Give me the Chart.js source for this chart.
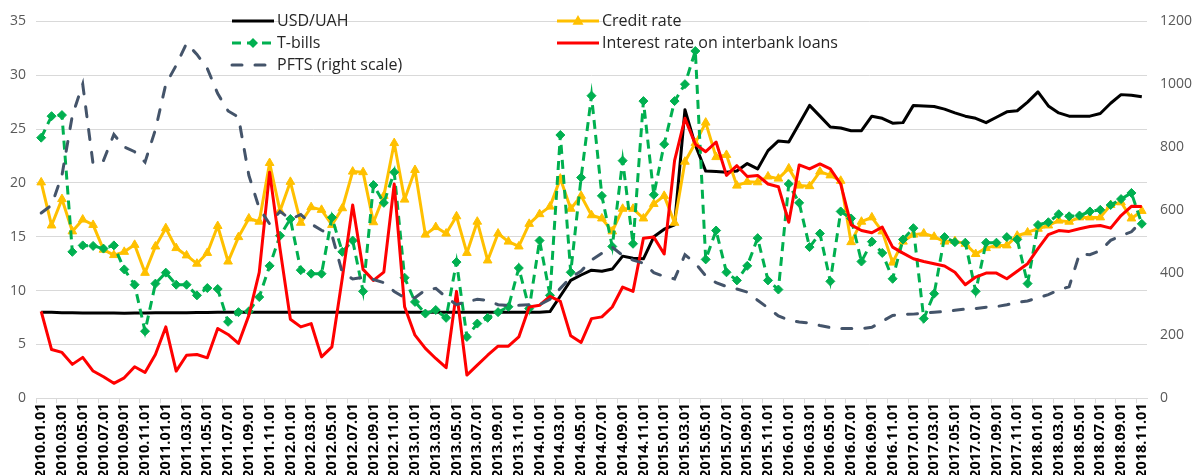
<!DOCTYPE html>
<html>
<head>
<meta charset="utf-8">
<script src="https://cdn.jsdelivr.net/npm/chart.js@4/dist/chart.umd.min.js"></script>
<style>
  html, body { margin: 0; padding: 0; background: #fff; }
  #chart { display: block; }
</style>
</head>
<body>
<canvas id="chart" width="1193" height="475"></canvas>
<script>
// ============================================================================
// DATA (monthly)
// ============================================================================

const months = [
    '2010.01.01', '2010.02.01', '2010.03.01', '2010.04.01', '2010.05.01', '2010.06.01', '2010.07.01', '2010.08.01', '2010.09.01', '2010.10.01', '2010.11.01', '2010.12.01',
    '2011.01.01', '2011.02.01', '2011.03.01', '2011.04.01', '2011.05.01', '2011.06.01', '2011.07.01', '2011.08.01', '2011.09.01', '2011.10.01', '2011.11.01', '2011.12.01',
    '2012.01.01', '2012.02.01', '2012.03.01', '2012.04.01', '2012.05.01', '2012.06.01', '2012.07.01', '2012.08.01', '2012.09.01', '2012.10.01', '2012.11.01', '2012.12.01',
    '2013.01.01', '2013.02.01', '2013.03.01', '2013.04.01', '2013.05.01', '2013.06.01', '2013.07.01', '2013.08.01', '2013.09.01', '2013.10.01', '2013.11.01', '2013.12.01',
    '2014.01.01', '2014.02.01', '2014.03.01', '2014.04.01', '2014.05.01', '2014.06.01', '2014.07.01', '2014.08.01', '2014.09.01', '2014.10.01', '2014.11.01', '2014.12.01',
    '2015.01.01', '2015.02.01', '2015.03.01', '2015.04.01', '2015.05.01', '2015.06.01', '2015.07.01', '2015.08.01', '2015.09.01', '2015.10.01', '2015.11.01', '2015.12.01',
    '2016.01.01', '2016.02.01', '2016.03.01', '2016.04.01', '2016.05.01', '2016.06.01', '2016.07.01', '2016.08.01', '2016.09.01', '2016.10.01', '2016.11.01', '2016.12.01',
    '2017.01.01', '2017.02.01', '2017.03.01', '2017.04.01', '2017.05.01', '2017.06.01', '2017.07.01', '2017.08.01', '2017.09.01', '2017.10.01', '2017.11.01', '2017.12.01',
    '2018.01.01', '2018.02.01', '2018.03.01', '2018.04.01', '2018.05.01', '2018.06.01', '2018.07.01', '2018.08.01', '2018.09.01', '2018.10.01', '2018.11.01'
];

const usdUah = [
    8.00, 7.98, 7.95, 7.94, 7.93, 7.92, 7.91, 7.91, 7.90, 7.91, 7.93, 7.94,
    7.94, 7.95, 7.95, 7.96, 7.97, 7.98, 7.98, 7.98, 7.98, 7.98, 7.99, 7.99,
    7.99, 7.99, 7.99, 7.99, 7.99, 7.99, 7.99, 7.99, 7.99, 7.99, 7.99, 7.99,
    7.99, 7.99, 7.99, 7.99, 7.99, 7.99, 7.99, 7.99, 7.99, 7.99, 7.99, 7.99,
    7.99, 8.05, 9.5, 10.95, 11.45, 11.9, 11.8, 12.0, 13.2, 13.0, 12.95, 15.0,
    15.7, 16.1, 26.8, 23.5, 21.1, 21.05, 21.0, 21.1, 21.8, 21.3, 23.0, 23.9,
    23.8, 25.5, 27.2, 26.2, 25.2, 25.1, 24.85, 24.85, 26.2, 26.0, 25.55, 25.6,
    27.2, 27.15, 27.1, 26.85, 26.5, 26.2, 26.0, 25.6, 26.1, 26.6, 26.7, 27.5,
    28.45, 27.15, 26.5, 26.2, 26.2, 26.2, 26.45, 27.4, 28.2, 28.15, 28.0
];

const creditRate = [
    20.05, 16.05, 18.5, 15.5, 16.6, 16.1, 13.8, 13.3, 13.6, 14.25, 11.65, 14.1,
    15.8, 13.95, 13.27, 12.5, 13.5, 16.0, 12.7, 14.97, 16.7, 16.4, 21.85, 17.4,
    20.1, 16.3, 17.75, 17.5, 16.1, 17.65, 21.05, 21.0, 16.35, 18.8, 23.7, 18.45,
    21.2, 15.2, 15.9, 15.3, 16.9, 13.5, 16.4, 12.8, 15.3, 14.55, 14.1, 16.2,
    17.1, 17.8, 20.4, 17.6, 18.8, 17.0, 16.7, 15.5, 17.6, 17.6, 16.7, 18.05,
    18.8, 16.3, 21.97, 23.7, 25.6, 22.4, 22.6, 19.75, 20.1, 20.06, 20.6, 20.4,
    21.35, 19.75, 19.7, 21.05, 20.7, 20.2, 14.5, 16.4, 16.8, 15.5, 12.6, 14.55,
    15.2, 15.3, 15.0, 14.55, 14.6, 14.35, 13.4, 13.95, 14.2, 14.2, 15.1, 15.4,
    15.75, 16.05, 16.5, 16.4, 16.8, 16.8, 16.8, 17.95, 18.2, 16.7, 17.4
];

const tBills = [
    24.2, 26.2, 26.3, 13.6, 14.2, 14.15, 13.9, 14.2, 11.97, 10.55, 6.23, 10.65,
    11.67, 10.55, 10.55, 9.56, 10.24, 10.15, 7.1, 8.0, 8.08, 9.4, 12.3, 15.1,
    16.65, 11.9, 11.57, 11.57, 16.8, 13.6, 14.65, 9.93, 19.8, 18.15, 21.0, 11.2,
    8.95, 7.87, 8.2, 7.47, 12.65, 5.7, 6.94, 7.47, 8.0, 8.5, 12.1, 8.33,
    14.65, 9.56, 24.45, 11.7, 20.5, 28.1, 18.8, 14.1, 22.07, 14.35, 27.6, 18.9,
    23.6, 27.6, 29.17, 32.25, 12.9, 15.58, 11.7, 10.95, 12.3, 14.87, 10.95, 10.1,
    19.9, 18.15, 14.04, 15.3, 10.86, 17.35, 16.7, 12.7, 14.55, 13.5, 11.1, 14.75,
    15.8, 7.4, 9.72, 14.97, 14.5, 14.45, 9.93, 14.45, 14.45, 14.97, 14.75, 10.65,
    16.1, 16.35, 17.1, 16.9, 16.97, 17.35, 17.5, 17.95, 18.5, 19.07, 16.2
];

const interbankRate = [
    8.08, 4.53, 4.26, 3.15, 3.8, 2.53, 2.0, 1.39, 1.9, 2.93, 2.4, 4.07,
    6.63, 2.53, 4.0, 4.07, 3.76, 6.48, 5.93, 5.09, 7.7, 11.7, 21.0, 13.9,
    7.34, 6.63, 6.94, 3.85, 4.78, 11.17, 17.96, 11.97, 10.95, 11.72, 19.9, 8.5,
    5.86, 4.63, 3.7, 2.84, 9.93, 2.16, 3.08, 4.0, 4.84, 4.84, 5.7, 8.48,
    8.64, 9.47, 9.0, 5.8, 5.18, 7.4, 7.56, 8.48, 10.33, 9.93, 14.87, 14.97,
    13.4, 22.07, 26.0, 23.6, 22.9, 23.8, 20.7, 21.6, 20.6, 20.7, 19.9, 19.65,
    16.35, 21.67, 21.3, 21.76, 21.3, 19.9, 16.1, 15.58, 15.37, 15.9, 14.04, 13.48,
    12.96, 12.7, 12.5, 12.28, 11.7, 10.55, 11.26, 11.63, 11.63, 11.1, 11.8, 12.5,
    13.9, 15.2, 15.58, 15.5, 15.74, 15.95, 16.05, 15.8, 16.97, 17.83, 17.8
];

const pfts = [
    590, 615, 710, 900, 1000, 745, 757, 840, 800, 785, 752, 855,
    1000, 1060, 1130, 1095, 1050, 970, 915, 895, 710, 605, 555, 595,
    570, 585, 555, 535, 520, 400, 380, 385, 378, 368, 340, 320,
    320, 345, 350, 322, 298, 308, 315, 312, 298, 296, 296, 298,
    298, 315, 350, 385, 405, 440, 462, 481, 455, 440, 430, 400,
    388, 380, 457, 430, 390, 368, 356, 348, 338, 312, 288, 262,
    249, 243, 240, 232, 225, 222, 222, 222, 226, 245, 264, 267,
    268, 271, 274, 276, 280, 284, 286, 290, 292, 298, 305, 310,
    320, 330, 345, 355, 460, 457, 470, 503, 518, 530, 565
];

const leftTicks = { min: 0, max: 35, step: 5 };
const rightTicks = { min: 0, max: 1200, step: 200 };

// ============================================================================
// LEGEND (two columns, drawn over the plot like the original)
// ============================================================================

const legendSlots = [
    { label: 'USD/UAH', x: 232, y: 21 },
    { label: 'Credit rate', x: 557, y: 21 },
    { label: 'T-bills', x: 232, y: 43 },
    { label: 'Interest rate on interbank loans', x: 557, y: 43 },
    { label: 'PFTS (right scale)', x: 232, y: 65 }
];

function drawMarker(ctx, style, x, y, r, color) {
    ctx.save();
    ctx.setLineDash([]);
    ctx.fillStyle = color;
    ctx.beginPath();
    if (style === 'triangle') {
        ctx.moveTo(x, y - r * 1.1);
        ctx.lineTo(x + r, y + r * 0.7);
        ctx.lineTo(x - r, y + r * 0.7);
    } else {
        ctx.moveTo(x, y - r);
        ctx.lineTo(x + r, y);
        ctx.lineTo(x, y + r);
        ctx.lineTo(x - r, y);
    }
    ctx.closePath();
    ctx.fill();
    ctx.restore();
}

const twoColumnLegend = {
    id: 'twoColumnLegend',
    afterDraw(chart) {
        const ctx = chart.ctx;
        legendSlots.forEach(slot => {
            const ds = chart.data.datasets.find(d => d.label === slot.label);
            if (!ds) return;
            ctx.save();
            ctx.strokeStyle = ds.borderColor;
            ctx.lineWidth = ds.borderWidth;
            ctx.lineCap = ds.borderCapStyle || 'butt';
            ctx.setLineDash(ds.borderDash || []);
            ctx.beginPath();
            ctx.moveTo(slot.x, slot.y);
            ctx.lineTo(slot.x + 42, slot.y);
            ctx.stroke();
            if (ds.pointRadius > 0) {
                drawMarker(ctx, ds.pointStyle, slot.x + 21, slot.y, ds.pointRadius + 0.5, ds.pointBackgroundColor);
            }
            ctx.setLineDash([]);
            ctx.fillStyle = '#262626';
            ctx.font = '16px "Open Sans"';
            ctx.textBaseline = 'middle';
            ctx.textAlign = 'left';
            ctx.fillText(ds.label, slot.x + 45, slot.y);
            ctx.restore();
        });
    }
};

// ============================================================================
// CHART
// ============================================================================

function buildChart() {
    const ctx = document.getElementById('chart').getContext('2d');

    new Chart(ctx, {
        type: 'line',
        data: {
            labels: months,
            datasets: [
                {
                    label: 'USD/UAH',
                    data: usdUah,
                    yAxisID: 'y',
                    borderColor: '#000000',
                    borderWidth: 3,
                    pointRadius: 0,
                    borderJoinStyle: 'round',
                    order: 5
                },
                {
                    label: 'Credit rate',
                    data: creditRate,
                    yAxisID: 'y',
                    borderColor: '#FFC000',
                    borderWidth: 3,
                    pointStyle: 'triangle',
                    pointRadius: 5,
                    pointBackgroundColor: '#FFC000',
                    pointBorderColor: '#FFC000',
                    pointBorderWidth: 1,
                    borderJoinStyle: 'round',
                    order: 4
                },
                {
                    label: 'T-bills',
                    data: tBills,
                    yAxisID: 'y',
                    borderColor: '#00B050',
                    borderWidth: 3,
                    borderDash: [9, 6],
                    pointStyle: 'rectRot',
                    pointRadius: 4.5,
                    pointBackgroundColor: '#00B050',
                    pointBorderColor: '#00B050',
                    pointBorderWidth: 1,
                    order: 3
                },
                {
                    label: 'Interest rate on interbank loans',
                    data: interbankRate,
                    yAxisID: 'y',
                    borderColor: '#FF0000',
                    borderWidth: 3,
                    pointRadius: 0,
                    borderJoinStyle: 'round',
                    order: 2
                },
                {
                    label: 'PFTS (right scale)',
                    data: pfts,
                    yAxisID: 'y1',
                    borderColor: '#44546A',
                    borderWidth: 3,
                    borderDash: [10, 13],
                    borderCapStyle: 'round',
                    pointRadius: 0,
                    order: 1
                }
            ]
        },
        options: {
            responsive: false,
            animation: false,
            layout: { padding: { top: 20.5, left: 0, right: 0, bottom: 0 } },
            plugins: {
                legend: { display: false },
                tooltip: { enabled: false }
            },
            scales: {
                x: {
                    type: 'category',
                    offset: true,
                    grid: {
                        offset: true,
                        drawOnChartArea: false,
                        drawTicks: true,
                        tickLength: 5,
                        color: (c) => (c.index % 2 === 0 ? '#d9d9d9' : 'rgba(0,0,0,0)')
                    },
                    border: { display: true, color: '#d9d9d9', width: 1 },
                    ticks: {
                        autoSkip: false,
                        maxRotation: 90,
                        minRotation: 90,
                        padding: 0,
                        color: '#000000',
                        font: { family: '"Open Sans"', size: 14.5, weight: 'bold' },
                        callback: (v, i) => (i % 2 === 0 ? months[i] : '')
                    },
                    afterFit: (scale) => { scale.height = 76.7; }
                },
                y: {
                    position: 'left',
                    min: leftTicks.min,
                    max: leftTicks.max,
                    grid: { color: '#d9d9d9', drawTicks: false },
                    border: { display: false },
                    ticks: {
                        stepSize: leftTicks.step,
                        padding: 10,
                        color: '#595959',
                        font: { family: '"Open Sans"', size: 14 },
                        callback: (v) => String(v)
                    },
                    afterFit: (scale) => { scale.width = 36; }
                },
                y1: {
                    position: 'right',
                    min: rightTicks.min,
                    max: rightTicks.max,
                    grid: { drawOnChartArea: false, drawTicks: false },
                    border: { display: false },
                    ticks: {
                        stepSize: rightTicks.step,
                        padding: 13,
                        color: '#595959',
                        font: { family: '"Open Sans"', size: 14 },
                        callback: (v) => String(v)
                    },
                    afterFit: (scale) => { scale.width = 46; }
                }
            }
        },
        plugins: [twoColumnLegend]
    });
}

Promise.all([
    document.fonts.load('16px "Open Sans"'),
    document.fonts.load('bold 14px "Open Sans"')
]).then(buildChart, buildChart);
</script>
</body>
</html>
